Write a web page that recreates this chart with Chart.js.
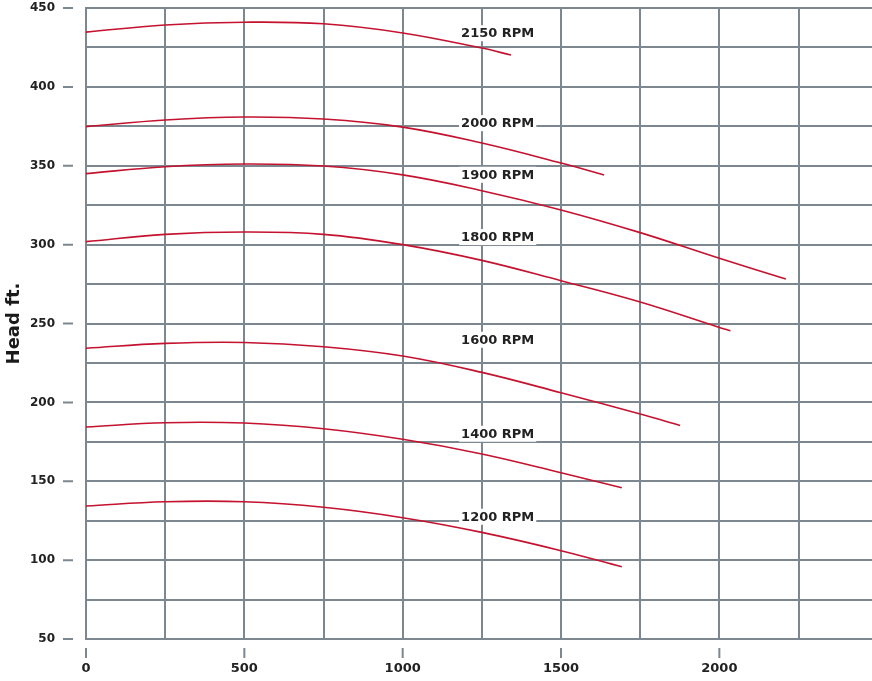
<!DOCTYPE html>
<html>
<head>
<meta charset="utf-8">
<script src="https://cdn.jsdelivr.net/npm/chart.js@4.4.0/dist/chart.umd.min.js"></script>
<style>
  body { margin: 0; background: #fff; }
  #wrap { width: 872px; height: 681px; }
</style>
</head>
<body>
<div id="wrap"><canvas id="pumpChart"></canvas></div>
<script>
// Pump curves - flow (x) vs head in ft (y), one pair of arrays per speed
const flow2150 = [0, 250, 500, 750, 1000, 1250, 1342];
const head2150 = [434.7, 439.2, 441, 440, 434.2, 424.6, 420.2];

const flow2000 = [0, 250, 500, 750, 1000, 1250, 1500, 1636];
const head2000 = [374.8, 379, 380.9, 379.6, 374.5, 364.4, 351.7, 344.1];

const flow1900 = [0, 250, 500, 750, 1000, 1250, 1500, 1750, 2000, 2210];
const head1900 = [345, 349.4, 351.1, 349.8, 344.2, 334.2, 322, 307.6, 291.3, 278.2];

const flow1800 = [0, 250, 500, 750, 1000, 1250, 1500, 1750, 2000, 2035];
const head1800 = [301.9, 306.5, 308, 306.5, 300, 290, 277.1, 263.6, 247.5, 245.4];

const flow1600 = [0, 250, 500, 750, 1000, 1250, 1500, 1750, 1876];
const head1600 = [234.3, 237.4, 238, 235.3, 229.4, 219, 206.1, 192.6, 185.4];

const flow1400 = [0, 250, 500, 750, 1000, 1250, 1500, 1692];
const head1400 = [184.4, 187.1, 186.9, 183.3, 176.6, 167.3, 155.4, 145.9];

const flow1200 = [0, 250, 500, 750, 1000, 1250, 1500, 1692];
const head1200 = [134.3, 137, 137, 133.5, 126.9, 117.6, 106, 95.8];

// curve labels
const rpmNames = ['2150 RPM', '2000 RPM', '1900 RPM', '1800 RPM', '1600 RPM', '1400 RPM', '1200 RPM'];
const labelFlow = 1300;
const labelHead = [434, 377, 344.3, 304.8, 239.7, 180.1, 127.5];

// grid positions (labels only on every other one)
const flowTicks = [0, 250, 500, 750, 1000, 1250, 1500, 1750, 2000, 2250];
const headTicks = [50, 75, 100, 125, 150, 175, 200, 225, 250, 275, 300, 325, 350, 375, 400, 425, 450];

const gridColor = '#7d878f';
const curveColor = '#c4122f';

function toPoints(xs, ys) {
    return xs.map((v, i) => ({ x: v, y: ys[i] }));
}

const curves = [
    [flow2150, head2150], [flow2000, head2000], [flow1900, head1900],
    [flow1800, head1800], [flow1600, head1600], [flow1400, head1400],
    [flow1200, head1200]
];

// labels with white boxes (under the curves) + the short detached tick dashes
const pumpDecor = {
    id: 'pumpDecor',
    beforeDatasetsDraw(chart) {
        const { ctx, scales: { x, y } } = chart;
        ctx.save();
        ctx.font = 'bold 13px "DejaVu Sans"';
        ctx.textAlign = 'center';
        ctx.textBaseline = 'middle';
        rpmNames.forEach(function (name, i) {
            const px = x.getPixelForValue(labelFlow);
            const py = y.getPixelForValue(labelHead[i]);
            const w = ctx.measureText(name).width + 4;
            ctx.fillStyle = '#fff';
            ctx.fillRect(px - w / 2, py - 8, w, 16);
            ctx.fillStyle = '#222';
            ctx.fillText(name, px, py + 0.5);
        });
        ctx.restore();
    },
    afterDraw(chart) {
        const { ctx, chartArea, scales: { x, y } } = chart;
        ctx.save();
        ctx.strokeStyle = gridColor;
        ctx.lineWidth = 2;
        ctx.beginPath();
        y.ticks.forEach(function (t) {
            if (t.value % 50 !== 0) return;
            const py = y.getPixelForValue(t.value);
            ctx.moveTo(chartArea.left - 23, py);
            ctx.lineTo(chartArea.left - 13, py);
        });
        x.ticks.forEach(function (t) {
            if (t.value % 500 !== 0) return;
            const px = x.getPixelForValue(t.value);
            ctx.moveTo(px, chartArea.bottom + 9);
            ctx.lineTo(px, chartArea.bottom + 19);
        });
        ctx.stroke();
        ctx.restore();
    }
};

new Chart(document.getElementById('pumpChart'), {
    type: 'line',
    data: {
        datasets: curves.map(function (c, i) {
            return {
                label: rpmNames[i],
                data: toPoints(c[0], c[1]),
                borderColor: curveColor,
                borderWidth: 1.6,
                pointRadius: 0,
                tension: 0.4,
                fill: false
            };
        })
    },
    options: {
        responsive: true,
        maintainAspectRatio: false,
        animation: false,
        layout: { padding: { top: 8, right: 0, bottom: 0, left: 0 } },
        plugins: {
            legend: { display: false },
            tooltip: { enabled: false }
        },
        scales: {
            x: {
                type: 'linear',
                min: 0,
                max: 2482,
                afterBuildTicks: function (s) { s.ticks = flowTicks.map(v => ({ value: v })); },
                afterFit: function (s) { s.height = 42; s.paddingLeft = 0; s.paddingRight = 0; },
                grid: { color: gridColor, lineWidth: 2, drawTicks: false },
                border: { display: true, color: gridColor, width: 2 },
                ticks: {
                    autoSkip: false,
                    maxRotation: 0,
                    padding: 22,
                    color: '#222',
                    font: { family: 'DejaVu Sans', size: 13, weight: 'bold' },
                    callback: v => (v % 500 === 0 ? v : '')
                }
            },
            y: {
                min: 50,
                max: 450,
                afterBuildTicks: function (s) { s.ticks = headTicks.map(v => ({ value: v })); },
                afterFit: function (s) { s.width = 86; s.paddingTop = 0; s.paddingBottom = 0; },
                grid: { color: gridColor, lineWidth: 2, drawTicks: false },
                border: { display: true, color: gridColor, width: 2 },
                title: {
                    display: true,
                    text: 'Head ft.',
                    color: '#1a1a1a',
                    font: { family: 'DejaVu Sans', size: 18, weight: 'bold' },
                    padding: { top: 4, bottom: 4 }
                },
                ticks: {
                    autoSkip: false,
                    padding: 31,
                    color: '#222',
                    font: { family: 'DejaVu Sans', size: 12, weight: 'bold' },
                    callback: v => (v % 50 === 0 ? v : '')
                }
            }
        }
    },
    plugins: [pumpDecor]
});
</script>
</body>
</html>
